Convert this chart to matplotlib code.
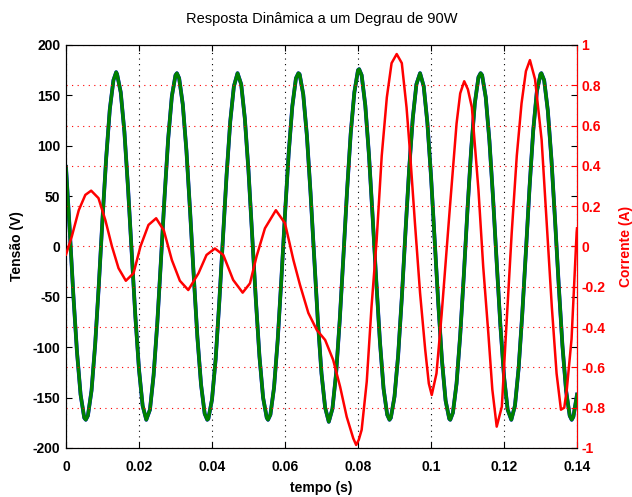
import matplotlib
matplotlib.use("Agg")
import matplotlib.pyplot as plt

plt.rcParams['font.family'] = ['Liberation Sans', 'DejaVu Sans']

# ---- data ----
t_tensao_ms = [0, 1, 2, 3, 4, 5, 5.43, 6, 7, 8, 9,
               10, 11, 12, 13, 13.75, 14, 15, 16, 17, 18, 19,
               20, 21, 22, 23, 24, 25, 26, 27, 28, 29,
               30, 30.39, 31, 32, 33, 34, 35, 36, 37, 38, 38.71, 39,
               40, 41, 42, 43, 44, 45, 46, 47, 48, 49,
               50, 51, 52, 53, 54, 55, 55.35, 56, 57, 58, 59,
               60, 61, 62, 63, 63.67, 64, 65, 66, 67, 68, 69,
               70, 71, 72, 73, 74, 75, 76, 77, 78, 79,
               80, 80.31, 81, 82, 83, 84, 85, 86, 87, 88, 88.63, 89,
               90, 91, 92, 93, 94, 95, 96, 97, 98, 99,
               100, 101, 102, 103, 104, 105, 105.27, 106, 107, 108, 109,
               110, 111, 112, 113, 113.59, 114, 115, 116, 117, 118, 119,
               120, 121, 122, 123, 124, 125, 126, 127, 128, 129,
               130, 130.23, 131, 132, 133, 134, 135, 136, 137, 138, 138.55, 139,
               140]
tensao = [79, 18, -47, -104, -147, -170, -172, -168, -143, -97, -38,
          27, 87, 136, 165, 173, 171, 153, 114, 58, -6, -69,
          -122, -158, -172, -162, -128, -77, -15, 49, 107, 149,
          170, 172, 167, 141, 95, 35, -29, -90, -137, -166, -172, -171,
          -152, -112, -55, 8, 71, 124, 159, 172, 161, 127,
          75, 12, -52, -109, -150, -170, -172, -167, -140, -93, -33,
          32, 92, 139, 167, 172, 171, 151, 110, 53, -11, -74,
          -126, -160, -174, -161, -126, -73, -10, 55, 112, 153,
          175, 176, 170, 140, 91, 30, -34, -94, -141, -167, -172, -170,
          -149, -108, -51, 14, 76, 127, 161, 172, 159, 123,
          70, 7, -57, -113, -153, -171, -172, -165, -136, -88, -28,
          37, 96, 142, 168, 172, 170, 148, 105, 48, -16, -78,
          -129, -162, -172, -158, -121, -67, -5, 59, 115, 154,
          171, 172, 165, 135, 86, 25, -39, -98, -143, -168, -172, -169,
          -147]
tensao_ref = tensao

t_corrente_ms = [0, 1.6, 3.5, 5.3, 6.9, 8.9, 10.8, 12.6, 14.4, 16.4,
                 18.5, 20.4, 22.6, 24.7, 26.8, 29.0, 31.2, 33.5, 36.3, 38.5,
                 40.8, 43.1, 45.8, 48.4, 50.4, 52.2, 54.5, 57.5, 60.0, 62.3,
                 64.1, 66.4, 68.7, 71.0, 73.2, 75.1, 76.9, 78.7, 79.5, 80.2,
                 81.0, 82.4, 83.7, 85.1, 86.5, 87.9, 89.2, 90.6, 92.0, 93.3,
                 94.2, 95.6, 97.0, 98.4, 99.4, 100.2, 101.5, 102.9, 105.2, 107.0,
                 108.0, 109.1, 110.1, 111.2, 113.0, 114.3, 115.7, 116.8, 118.0, 119.4,
                 120.7, 122.1, 123.5, 124.8, 126.0, 127.1, 128.5, 130.3, 131.7, 133.1,
                 134.4, 135.6, 136.5, 137.2, 138.5, 139.9, 140.0]
corrente = [-0.04, 0.05, 0.18, 0.256, 0.277, 0.24, 0.13, 0.0, -0.108, -0.17,
            -0.133, 0.0, 0.107, 0.14, 0.08, -0.067, -0.17, -0.216, -0.133, -0.042,
            -0.01, -0.042, -0.166, -0.229, -0.183, -0.05, 0.09, 0.18, 0.115, -0.067,
            -0.19, -0.33, -0.414, -0.464, -0.563, -0.696, -0.845, -0.952, -0.985, -0.96,
            -0.91, -0.67, -0.30, 0.03, 0.45, 0.74, 0.91, 0.955, 0.91, 0.69,
            0.48, 0.116, -0.23, -0.51, -0.68, -0.737, -0.63, -0.34, 0.20, 0.61,
            0.76, 0.82, 0.78, 0.69, 0.28, -0.10, -0.43, -0.71, -0.894, -0.795,
            -0.38, 0.065, 0.45, 0.71, 0.87, 0.925, 0.83, 0.53, 0.115, -0.30,
            -0.63, -0.81, -0.80, -0.71, -0.46, 0.07, 0.09]

x_ticks = [0, 0.02, 0.04, 0.06, 0.08, 0.1, 0.12, 0.14]
x_labels = ["0", "0.02", "0.04", "0.06", "0.08", "0.1", "0.12", "0.14"]
y1_ticks = [-200, -150, -100, -50, 0, 50, 100, 150, 200]
y1_labels = ["-200", "-150", "-100", "-50", "0", "50", "100", "150", "200"]
y2_ticks = [-1, -0.8, -0.6, -0.4, -0.2, 0, 0.2, 0.4, 0.6, 0.8, 1]
y2_labels = ["-1", "-0.8", "-0.6", "-0.4", "-0.2", "0", "0.2", "0.4", "0.6", "0.8", "1"]

t_tensao = [v / 1000.0 for v in t_tensao_ms]
t_corrente = [v / 1000.0 for v in t_corrente_ms]

# ---- figure ----
fig = plt.figure(figsize=(6.32, 4.97), dpi=100)
ax1 = fig.add_axes([0.1044, 0.0986, 0.8086, 0.8109])
ax2 = ax1.twinx()

ax1.plot(t_tensao, tensao_ref, color='#0000ff', lw=2.75, zorder=2)
ax1.plot(t_tensao, tensao, color='#008000', lw=2.55, zorder=3)

ax2.plot(t_corrente, corrente, color='#ff0000', lw=1.8, zorder=3)

ax1.set_xlim(0, 0.14)
ax1.set_ylim(-200, 200)
ax2.set_ylim(-1, 1)

bold = dict(fontsize=10, fontweight='bold')
ax1.set_xticks(x_ticks)
ax1.set_xticklabels(x_labels, **bold)
ax1.set_yticks(y1_ticks)
ax1.set_yticklabels(y1_labels, **bold)
ax2.set_yticks(y2_ticks)
ax2.set_yticklabels(y2_labels, color='#ff0000', **bold)

ax1.tick_params(axis='both', direction='in', length=4, width=0.8,
                top=True, right=True, pad=4)
ax1.tick_params(axis='x', pad=9)
ax2.tick_params(axis='y', direction='in', length=4, width=0.8,
                colors='#ff0000', pad=3)

ax1.xaxis.grid(True, linestyle=(0, (1, 4)), color='black', lw=0.8)
ax2.yaxis.grid(True, linestyle=(0, (1, 4)), color='#ff0000', lw=0.8)

ax2.spines['right'].set_color('#ff0000')
for sp in ax1.spines.values():
    sp.set_linewidth(0.8)
for sp in ax2.spines.values():
    sp.set_linewidth(0.8)

ax1.set_xlabel('tempo (s)', fontsize=10, fontweight='bold', labelpad=5)
ax1.set_ylabel('Tensão (V)', fontsize=10, fontweight='bold', labelpad=6)
ax2.set_ylabel('Corrente (A)', fontsize=10, fontweight='bold', color='#ff0000', labelpad=10)
ax1.set_title('Resposta Dinâmica a um Degrau de 90W', fontsize=10.5, pad=15.5)

fig.savefig('out.png', dpi=100)
